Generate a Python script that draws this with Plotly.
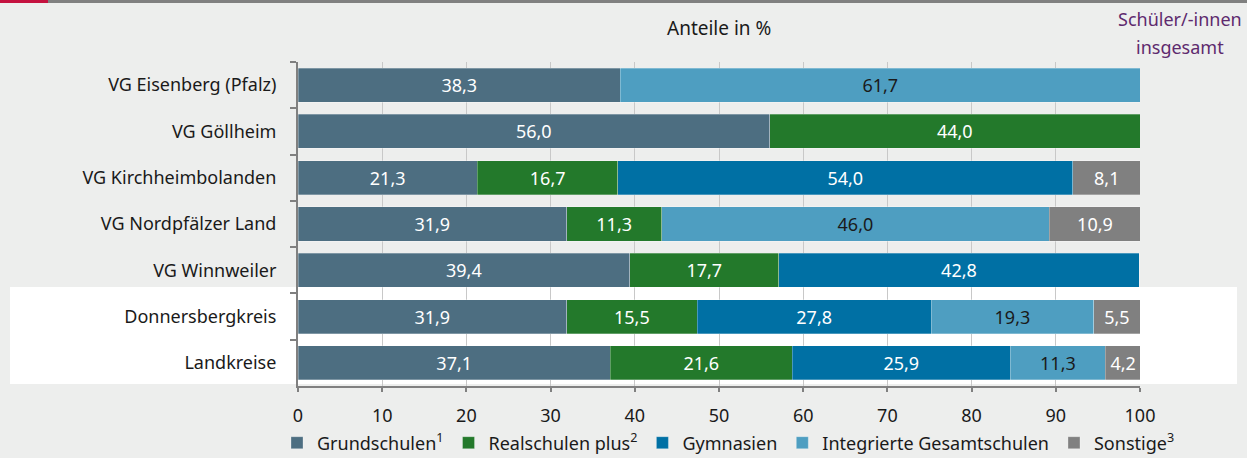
import plotly.graph_objects as go

regions = ["VG Eisenberg (Pfalz)", "VG Göllheim", "VG Kirchheimbolanden",
           "VG Nordpfälzer Land", "VG Winnweiler", "Donnersbergkreis", "Landkreise"]
series_names = ["Grundschulen<sup>1</sup>", "Realschulen plus<sup>2</sup>", "Gymnasien",
                "Integrierte Gesamtschulen", "Sonstige<sup>3</sup>"]
grundschulen = [38.3, 56.0, 21.3, 31.9, 39.4, 31.9, 37.1]
realschulen = [0, 44.0, 16.7, 11.3, 17.7, 15.5, 21.6]
gymnasien = [0, 0, 54.0, 0, 42.8, 27.8, 25.9]
igs = [61.7, 0, 0, 46.0, 0, 19.3, 11.3]
sonstige = [0, 0, 8.1, 10.9, 0, 5.5, 4.2]
totals = ["1 298", "734", "3 303", "1 722", "1 179", "8 236", "285 289"]
x_ticks = [0, 10, 20, 30, 40, 50, 60, 70, 80, 90, 100]

colors = ["#4d6e81", "#23792b", "#0070a4", "#4e9ec1", "#808080"]
text_colors = ["white", "white", "white", "#1a1a1a", "white"]
all_series = [grundschulen, realschulen, gymnasien, igs, sonstige]

FONT = "Noto Sans"
FS = 18
PURPLE = "#5e2a6e"
fig = go.Figure()
for name, vals, col, tcol in zip(series_names, all_series, colors, text_colors):
    ys = [r for r, v in zip(regions, vals) if v > 0]
    xs = [v for v in vals if v > 0]
    fig.add_trace(go.Bar(
        y=ys, x=xs, name=name, orientation="h",
        marker=dict(color=col, line=dict(color="rgba(255,255,255,0.35)", width=0.8)),
        text=[f"{v:.1f}".replace(".", ",") for v in xs],
        textposition="inside", insidetextanchor="middle", textangle=0,
        constraintext="none",
        textfont=dict(family=FONT, size=FS, color=tcol),
        hoverinfo="skip",
    ))

# totals column
for r, t in zip(regions, totals):
    fig.add_annotation(x=101.7, y=r, xref="x", yref="y", text=t, showarrow=False,
                       xanchor="left", yanchor="middle",
                       font=dict(family=FONT, size=FS, color=PURPLE))

L, R, T, B = 298, 107, 62, 72
W, H = 1247, 458
pw, ph = W - L - R, H - T - B
def px(xp): return (xp - L) / pw
def py(yp): return (H - B - yp) / ph

fig.add_annotation(x=0.5, y=py(28), xref="paper", yref="paper", text="Anteile in %",
                   showarrow=False, xanchor="center", yanchor="middle",
                   font=dict(family=FONT, size=19, color="#1a1a1a"))
fig.add_annotation(x=px(1180), y=py(19), xref="paper", yref="paper",
                   text="Schüler/-innen", showarrow=False,
                   xanchor="center", yanchor="middle",
                   font=dict(family=FONT, size=FS, color=PURPLE))
fig.add_annotation(x=px(1180), y=py(47), xref="paper", yref="paper",
                   text="insgesamt", showarrow=False,
                   xanchor="center", yanchor="middle",
                   font=dict(family=FONT, size=FS, color=PURPLE))

# white band behind last two rows
fig.add_shape(type="rect", xref="paper", yref="paper",
              x0=px(10), x1=px(1237), y0=py(384), y1=py(287),
              fillcolor="white", line_width=0, layer="below")
# top decoration
fig.add_shape(type="rect", xref="paper", yref="paper",
              x0=px(48), x1=px(W), y0=py(3), y1=py(0),
              fillcolor="#808080", line_width=0, layer="above")
fig.add_shape(type="rect", xref="paper", yref="paper",
              x0=px(0), x1=px(48), y0=py(3), y1=py(0),
              fillcolor="#c4113f", line_width=0, layer="above")

fig.update_layout(
    width=W, height=H, barmode="stack", bargap=0.265,
    margin=dict(l=L, r=R, t=T, b=B, autoexpand=False),
    paper_bgcolor="#edeeed", plot_bgcolor="rgba(0,0,0,0)",
    font=dict(family=FONT, size=FS, color="#1a1a1a"),
    legend=dict(orientation="h", x=px(277), xanchor="left", y=py(443), yanchor="middle",
                font=dict(family=FONT, size=FS, color="#1a1a1a"),
                traceorder="normal", itemwidth=30, bgcolor="rgba(0,0,0,0)"),
    xaxis=dict(range=[0, 100], tickvals=x_ticks, ticktext=[str(v) for v in x_ticks],
               showgrid=True, gridcolor="#c8c8c8", gridwidth=1,
               showline=True, linecolor="#808080", linewidth=2,
               ticks="outside", ticklen=4, tickcolor="#808080", tickwidth=1.5,
               ticklabelstandoff=8, automargin=False,
               zeroline=False, tickfont=dict(family=FONT, size=FS, color="#1a1a1a")),
    yaxis=dict(autorange="reversed", showgrid=False, tickson="boundaries",
               showline=True, linecolor="#808080", linewidth=2,
               ticks="outside", ticklen=6, tickcolor="#808080", tickwidth=1.5,
               ticklabelstandoff=16, automargin=False,
               tickfont=dict(family=FONT, size=FS, color="#1a1a1a")),
    showlegend=True,
)

fig.write_html("out.html", config={"displayModeBar": False},
               post_script="document.body.style.margin='0';")
